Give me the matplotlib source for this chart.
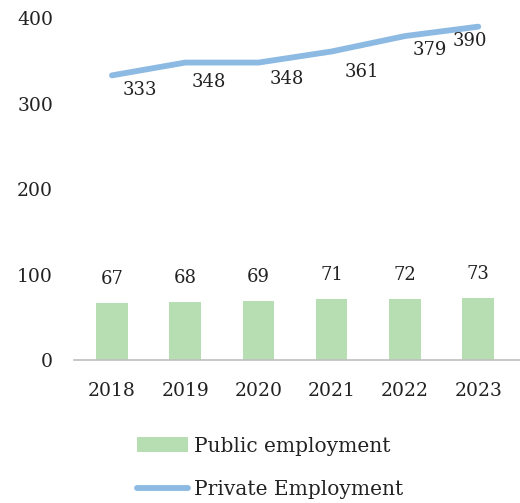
import matplotlib.pyplot as plt

years = ["2018", "2019", "2020", "2021", "2022", "2023"]
public_employment = [67, 68, 69, 71, 72, 73]
private_employment = [333, 348, 348, 361, 379, 390]

# label offsets (pixels) for the line values, placed below-right of each point
line_label_offsets = [(28, -15), (24, -19), (28, -16), (30, -21), (25, -14), (-8, -14)]

plt.rcParams['font.family'] = ['DejaVu Serif']

fig = plt.figure(figsize=(5.2, 5.03), dpi=100)
ax = fig.add_axes([0.142, 0.284, 0.858, 0.68])

x = list(range(len(years)))
bars = ax.bar(x, public_employment, width=0.43, color="#b7ddb3", label="Public employment", zorder=2)
line, = ax.plot(x, private_employment, color="#8dbae2", linewidth=4.2, solid_capstyle="round",
                label="Private Employment", zorder=3)

for xi, v in zip(x, public_employment):
    ax.annotate(str(v), (xi, v), xytext=(0, 15), textcoords="offset pixels",
                ha="center", va="bottom", fontsize=13, color="#222222")

for xi, v, off in zip(x, private_employment, line_label_offsets):
    ax.annotate(str(v), (xi, v), xytext=off, textcoords="offset pixels",
                ha="center", va="center", fontsize=13, color="#222222")

ax.set_xlim(-0.52, 5.57)
ax.set_ylim(0, 400)
ax.set_yticks([0, 100, 200, 300, 400])
ax.set_xticks(x)
ax.set_xticklabels(years)
ax.tick_params(axis="both", length=0, labelsize=13.5, colors="#222222")
ax.tick_params(axis="y", pad=15)
ax.tick_params(axis="x", pad=16)

for side in ["top", "right", "left"]:
    ax.spines[side].set_visible(False)
ax.spines["bottom"].set_color("#bfbfbf")
ax.spines["bottom"].set_linewidth(1.2)

leg = fig.legend([bars, line], ["Public employment", "Private Employment"],
                 loc="lower center", bbox_to_anchor=(0.52, -0.028), ncol=1, frameon=False,
                 fontsize=14.5, handlelength=2.55, handleheight=0.75, labelspacing=1.2,
                 handletextpad=0.3)
for t in leg.get_texts():
    t.set_color("#222222")

fig.savefig("out.png", dpi=100)
